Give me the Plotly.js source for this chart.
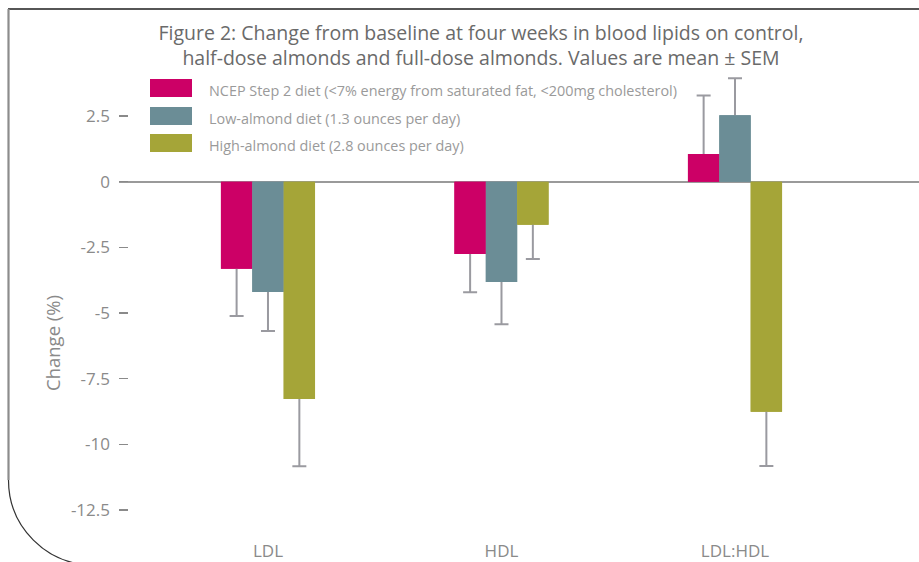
<!DOCTYPE html>
<html>
<head>
<meta charset="utf-8">
<script src="https://cdn.plot.ly/plotly-3.0.1.min.js"></script>
<style>
html,body{margin:0;padding:0;background:#fff;}
#chart{width:919px;height:562px;}
</style>
</head>
<body>
<div id="chart"></div>
<script>
// ---- data ----
var categories = ['LDL', 'HDL', 'LDL:HDL'];
var seriesNames = [
  'NCEP Step 2 diet (<7% energy from saturated fat, <200mg cholesterol)',
  'Low-almond diet (1.3 ounces per day)',
  'High-almond diet (2.8 ounces per day)'
];
var ncepValues = [-3.32, -2.75, 1.05];
var ncepSem    = [1.79, 1.46, 2.23];
var lowValues  = [-4.20, -3.82, 2.53];
var lowSem     = [1.49, 1.61, 1.41];
var highValues = [-8.28, -1.64, -8.76];
var highSem    = [2.56, 1.30, 2.07];
var yTickVals  = [2.5, 0, -2.5, -5, -7.5, -10, -12.5];
var yTickText  = ['2.5', '0', '-2.5', '-5', '-7.5', '-10', '-12.5'];
var titleText  = 'Figure 2: Change from baseline at four weeks in blood lipids on control,<br>half-dose almonds and full-dose almonds. Values are mean \u00b1 SEM';
var yTitleText = 'Change (%)';

// ---- styles ----
var colors = ['#CC0066', '#6B8D96', '#A5A538'];
var FONT = 'Open Sans, sans-serif';
var W = 919, H = 562;
var M = {l: 119, r: 0, t: 60, b: 32};
var PW = W - M.l - M.r, PH = H - M.t - M.b;
function px(x) { return (x - M.l) / PW; }
function py(y) { return (M.t + PH - y) / PH; }

var vals = [ncepValues, lowValues, highValues];
var sems = [ncepSem, lowSem, highSem];
var groups = ['g0', 'g1', 'g2'];

var traces = [];
// base bars carrying one-sided error bars (inner half hidden by overlay)
for (var s = 0; s < 3; s++) {
  var up = [], down = [];
  for (var i = 0; i < categories.length; i++) {
    var v = vals[s][i], e = sems[s][i], inner = Math.abs(v) / 2;
    if (v < 0) { up.push(inner); down.push(e); }
    else { up.push(e); down.push(inner); }
  }
  traces.push({
    type: 'bar', x: categories, y: vals[s], name: seriesNames[s],
    offsetgroup: groups[s], marker: {color: colors[s], line: {width: 0}},
    showlegend: false, hoverinfo: 'skip',
    error_y: {type: 'data', symmetric: false, array: up, arrayminus: down,
              color: '#9A9AA0', thickness: 2, width: 7}
  });
}
// overlay bars (cover inner error segments)
for (var s2 = 0; s2 < 3; s2++) {
  traces.push({
    type: 'bar', x: categories, y: vals[s2], name: seriesNames[s2],
    offsetgroup: groups[s2], marker: {color: colors[s2], line: {width: 0}},
    showlegend: false
  });
}

var shapes = [];
var annotations = [];
// custom legend
var legY = [79, 107, 134];
for (var k = 0; k < 3; k++) {
  shapes.push({type: 'rect', xref: 'paper', yref: 'paper',
    x0: px(150), x1: px(192), y0: py(legY[k]), y1: py(legY[k] + 18),
    fillcolor: colors[k], line: {width: 0}});
  annotations.push({xref: 'paper', yref: 'paper', x: px(207), y: py(legY[k] + 11.5),
    xanchor: 'left', yanchor: 'middle', showarrow: false, text: seriesNames[k],
    font: {family: FONT, size: 14.4, color: '#9A9A9A'}});
}
// y axis title
annotations.push({xref: 'paper', yref: 'paper', x: px(53), y: py(343),
  xanchor: 'center', yanchor: 'middle', showarrow: false, textangle: -90,
  text: yTitleText, font: {family: FONT, size: 18.5, color: '#8A8A8A'}});
// frame decoration
shapes.push({type: 'line', xref: 'paper', yref: 'paper', layer: 'below',
  x0: px(8), x1: px(919), y0: py(9), y1: py(9), line: {color: '#1E1E1E', width: 1.6}});
shapes.push({type: 'line', xref: 'paper', yref: 'paper', layer: 'below',
  x0: px(8.5), x1: px(8.5), y0: py(9), y1: py(480), line: {color: '#8C8C8C', width: 2.2}});
var cx0 = px(8.5), cy0 = py(480), cx1 = px(8.5), cy1 = py(527), cx2 = px(46.5), cy2 = py(565), cx3 = px(93.5), cy3 = py(565);
shapes.push({type: 'path', xref: 'paper', yref: 'paper', layer: 'below',
  path: 'M ' + cx0 + ' ' + cy0 + ' C ' + cx1 + ' ' + cy1 + ', ' + cx2 + ' ' + cy2 + ', ' + cx3 + ' ' + cy3,
  line: {color: '#333333', width: 1.2}});

var layout = {
  width: W, height: H,
  margin: M,
  paper_bgcolor: '#ffffff', plot_bgcolor: 'rgba(0,0,0,0)',
  font: {family: FONT, color: '#8A8A8A'},
  title: {text: titleText, x: 481 / W, xanchor: 'center', xref: 'container',
          y: 1 - 40 / H, yanchor: 'top', yref: 'container',
          font: {family: FONT, size: 19.5, color: '#6A6A6A'}},
  barmode: 'group', bargap: 0.597, bargroupgap: 0,
  showlegend: false,
  xaxis: {type: 'category', range: [-0.638, 2.788], showgrid: false, zeroline: false,
          showline: false, ticks: '', ticklabelstandoff: 9,
          tickfont: {family: FONT, size: 17, color: '#8A8A8A'},
          fixedrange: true},
  yaxis: {range: [-13.264, 4.634], showgrid: false, zeroline: true, zerolinecolor: '#9A9A9A',
          zerolinewidth: 2, showline: false, ticks: 'inside', ticklen: 9, tickwidth: 1.5,
          tickcolor: '#8A8A8A', tickvals: yTickVals, ticktext: yTickText,
          ticklabelstandoff: 8,
          tickfont: {family: FONT, size: 17, color: '#8A8A8A'}, fixedrange: true},
  shapes: shapes,
  annotations: annotations
};

Plotly.newPlot('chart', traces, layout, {displayModeBar: false, staticPlot: true});
</script>
</body>
</html>
